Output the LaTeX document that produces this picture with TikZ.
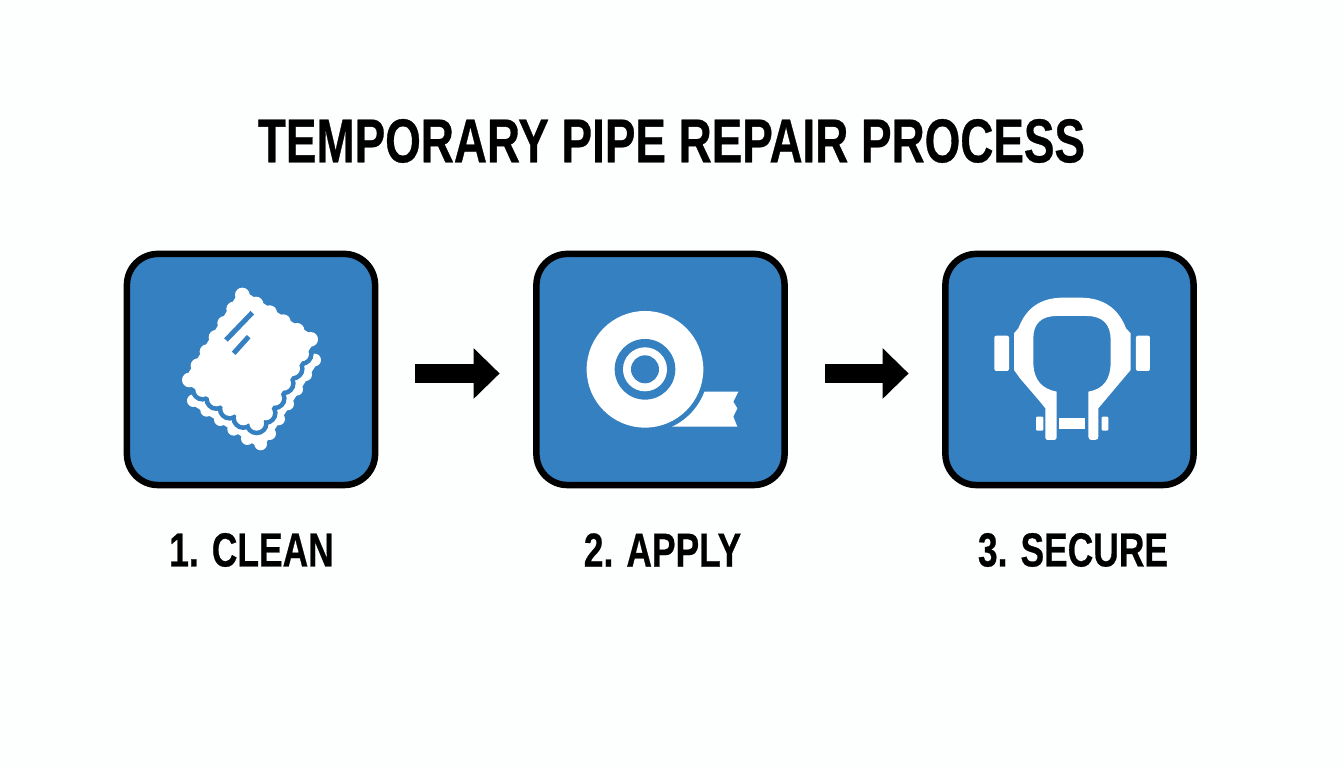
\documentclass[tikz,border=0pt]{standalone}
\usepackage{fontspec}
\setmainfont{Liberation Sans}[FakeStretch=0.74, BoldFeatures={FakeBold=0.5}]
\usetikzlibrary{arrows.meta}
\definecolor{pagewhite}{HTML}{FDFEFE}
\definecolor{boxblue}{HTML}{3580C0}
\tikzset{
	stepbox/.style={draw=black, fill=boxblue, line width=0.065cm, rounded corners=0.31cm, minimum width=2.48cm, minimum height=2.31cm},
	titletext/.style={font=\fontsize{17.6}{20}\selectfont\bfseries, text=black, inner sep=0pt},
	steptext/.style={font=\fontsize{13.6}{17}\selectfont\bfseries, text=black, inner sep=0pt},
	steparrow/.style={draw=black, line width=0.19cm, -{Triangle[length=0.26cm, width=0.49cm]}, shorten <=0.37cm, shorten >=0.335cm},
	iconblue/.style={fill=boxblue},
	iconwhite/.style={fill=white}
}
\begin{document}
\begin{tikzpicture}[x=0.01cm, y=-0.01cm]
	\useasboundingbox (0,0) rectangle (1344,768);
	\fill [pagewhite] (0,0) rectangle (1344,768);
	\node [titletext] (title) at (671.5,141) {TEMPORARY PIPE REPAIR PROCESS};
	\node [stepbox] (clean) at (251,369.5) {};
	\node [stepbox] (apply) at (660.5,369.5) {};
	\node [stepbox] (secure) at (1069.5,369.5) {};
	\node [steptext] (cleantext) at (251.5,550) {1. CLEAN};
	\node [steptext] (applytext) at (662.5,550) {2. APPLY};
	\node [steptext] (securetext) at (1073,550) {3. SECURE};
	\draw [steparrow] (clean.east |- 0,373.5) -- (apply.west |- 0,373.5);
	\draw [steparrow] (apply.east |- 0,373.5) -- (secure.west |- 0,373.5);
	% cloth
	\begin{scope}[shift={(120,245)}, scale=1/3]
		\def\bumps{367/150,408/177,449/203,490/230,531/256,572/283,545/327,518/371,491/415,464/460,437/504,410/535,370/519,329/491,289/462,248/434,208/405,234/362,261/320,288/277,314/235,341/192}
		\begin{scope}[shift={(12,62)}]
			\filldraw [iconwhite, draw=white, line width=0.08cm, line join=round] (367,150) -- (572,283) -- (410,535) -- (208,405) -- cycle;
			\foreach \a/\b in \bumps {
				\fill [iconwhite] (\a,\b) circle (19);
			}
		\end{scope}
		\filldraw [iconblue, draw=boxblue, line width=0.18cm, line join=round] (367,150) -- (572,283) -- (410,535) -- (208,405) -- cycle;
		\foreach \a/\b in \bumps {
			\fill [iconblue] (\a,\b) circle (36);
		}
		\filldraw [iconwhite, draw=white, line width=0.09cm, line join=round] (367,150) -- (572,283) -- (410,535) -- (208,405) -- cycle;
		\foreach \a/\b in \bumps {
			\fill [iconwhite] (\a,\b) circle (22);
		}
		\draw [boxblue, line width=0.05cm] (397,203) -- (318,285);
		\draw [boxblue, line width=0.05cm] (386,275) -- (341,325);
	\end{scope}
	% tape
	\begin{scope}[shift={(530,245)}, scale=1/3]
		\fill [iconwhite] (500,440) -- (625,440) -- (610,470) -- (622,490) -- (610,515) -- (622,545) -- (425,545) -- cycle;
		\fill [iconblue] (345,373) circle (190);
		\fill [iconwhite] (345,373) circle (175);
		\fill [iconblue] (345,373) circle (91);
		\fill [iconwhite] (345,373) circle (66);
		\fill [iconblue] (345,373) circle (42);
	\end{scope}
	% shackle
	\begin{scope}[shift={(940,245)}, scale=1/3]
		\fill [iconwhite, rounded corners=0.02cm] (163,272) rectangle (207,378);
		\fill [iconwhite, rounded corners=0.02cm] (588,272) rectangle (630,378);
		\fill [iconwhite, rounded corners=0.01cm] (288,515) rectangle (310,557);
		\fill [iconwhite, rounded corners=0.01cm] (485,515) rectangle (505,557);
		\fill [iconwhite] (358,518) rectangle (435,552);
		\fill [iconwhite] (316,490) -- (316,575) .. controls (316,585) and (320,585) .. (330,585) -- (340,585) .. controls (350,585) and (350,580) .. (350,570) -- (350,440)
			.. controls (310,432) and (280,410) .. (280,350) -- (280,280) .. controls (280,235) and (305,213) .. (350,213) -- (440,213)
			.. controls (490,213) and (512,240) .. (512,285) -- (512,350) .. controls (512,405) and (490,432) .. (445,440)
			-- (445,570) .. controls (445,582) and (448,585) .. (458,585) -- (465,585) .. controls (473,585) and (475,582) .. (475,572) -- (475,490)
			-- (555,395) -- (572,375) -- (572,265) -- (558,250) .. controls (535,190) and (490,158) .. (420,158) -- (370,158)
			.. controls (300,158) and (258,190) .. (235,250) -- (222,265) -- (222,375) -- (240,400) -- (300,470) -- cycle;
	\end{scope}
\end{tikzpicture}
\end{document}
